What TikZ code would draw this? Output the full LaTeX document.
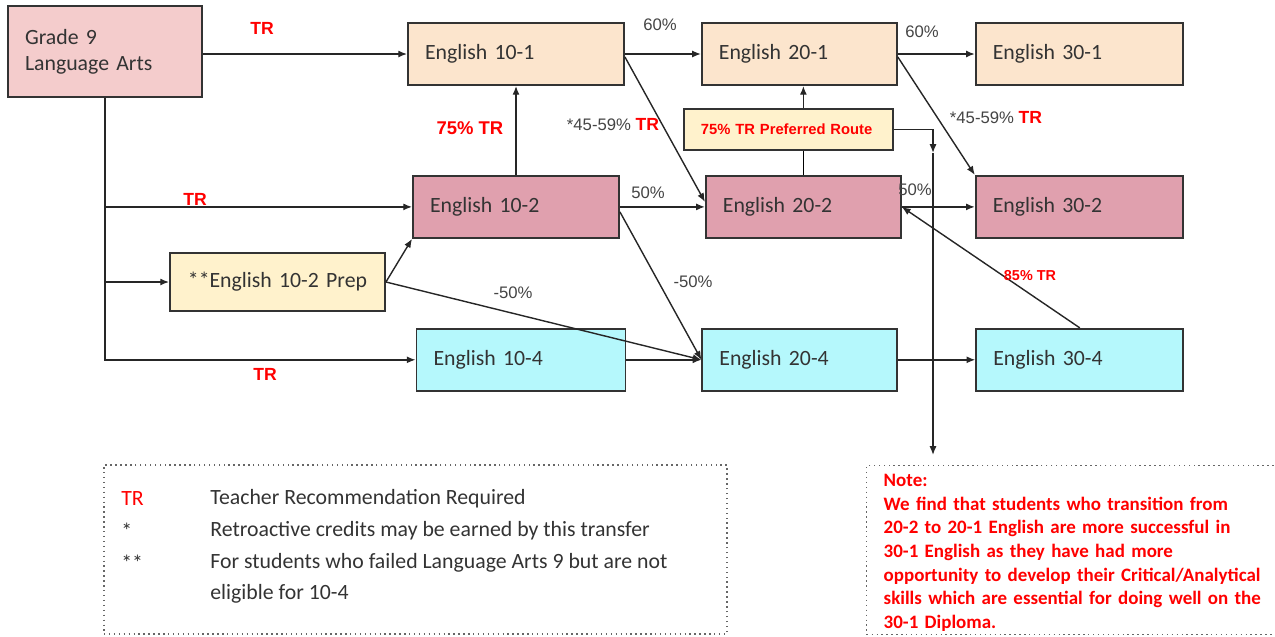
\documentclass[tikz,border=0pt]{standalone}
\usepackage{fontspec}
\setmainfont{Carlito}
\newfontfamily\labelfont{Liberation Sans}
\usetikzlibrary{positioning, arrows.meta}
\usepackage{xcolor}
\definecolor{gradepink}{HTML}{F4CCCC}
\definecolor{peach}{HTML}{FCE5CD}
\definecolor{rose}{HTML}{E0A0AE}
\definecolor{paleyellow}{HTML}{FFF2CC}
\definecolor{palecyan}{HTML}{B5F8FC}
\definecolor{inkgray}{HTML}{333333}
\definecolor{labelgray}{HTML}{444444}
\definecolor{trred}{HTML}{FF0000}
\tikzset{course/.style={draw=inkgray, line width=1.1pt, minimum height=1.24cm, inner xsep=0.34cm,
                        align=left, text=inkgray, font=\fontsize{12.4}{15}\selectfont},
         arr/.style={-{Latex[length=5pt,width=4pt]}, line width=0.8pt, draw=black!85},
         pct/.style={font=\labelfont\fontsize{9.5}{11}\selectfont, text=labelgray, inner sep=1pt},
         trlab/.style={font=\labelfont\bfseries\fontsize{10}{12}\selectfont, text=trred, inner sep=1pt},
         notebox/.style={draw=black!60, dotted, line width=0.8pt},
         legtext/.style={text=inkgray, inner sep=0.04cm, font=\fontsize{12.4}{15}\selectfont}}

\begin{document}
\begin{tikzpicture}[x=0.02cm, y=-0.02cm]
\useasboundingbox (0,0) rectangle (1275,636);
% courses
\node[course, fill=gradepink, text width=3.2cm, minimum height=1.82cm] (g9) at (105,51.5) {Grade 9\\Language Arts};
\node[course, fill=peach, text width=3.64cm] (e101) at (516,54) {English 10-1};
\node[course, fill=peach, text width=3.22cm, right=1.52cm of e101] (e201) {English 20-1};
\node[course, fill=peach, text width=3.46cm, right=1.54cm of e201] (e301) {English 30-1};
\node[course, fill=rose, text width=3.44cm, below=1.78cm of e101] (e102) {English 10-2};
\node[course, fill=rose, text width=3.22cm, right=1.70cm of e102] (e202) {English 20-2};
\node[course, fill=rose, text width=3.46cm, right=1.46cm of e202] (e302) {English 30-2};
\node[course, fill=palecyan, text width=3.5cm, below=1.78cm of e102, xshift=0.1cm] (e104) {English 10-4};
\node[course, fill=palecyan, text width=3.22cm, right=1.5cm of e104] (e204) {English 20-4};
\node[course, fill=palecyan, text width=3.46cm, right=1.54cm of e204] (e304) {English 30-4};
\node[course, fill=paleyellow, text width=3.62cm, align=center, minimum height=1.16cm] (prep) at (277.5,282) {**English 10-2 Prep};
\node[course, fill=paleyellow, text width=3.5cm, minimum height=0.82cm, above=0.48cm of e202, xshift=-0.3cm,
      text=trred, font=\labelfont\bfseries\fontsize{8.4}{10}\selectfont] (pref) {75\% TR Preferred Route};

% from grade 9
\draw[arr] (g9.east |- e101.west) -- (e101.west);
\draw[arr] (g9.south) |- (e104.west);
\draw[arr] (g9.south |- e102.west) -- (e102.west);
\draw[arr] (g9.south |- prep.west) -- (prep.west);
\draw[arr] (prep.east) -- (e102.south west);
\draw[arr] (prep.east) -- (e204.west);

% grade 10 to 20
\draw[arr] (e102.north) -- (e101.south);
\draw[arr] (e101.east) -- (e201.west);
\draw[arr] ([yshift=-0.06cm]e101.east) -- ([yshift=0.1cm]e202.west);
\draw[arr] (e102.east) -- (e202.west);
\draw[arr] ([yshift=-0.1cm]e102.east) -- (e204.west);
\draw[arr] (e104.east) -- (e204.west);

% grade 20 to 30
\draw[arr] (e201.east) -- (e301.west);
\draw[arr] ([yshift=-0.06cm]e201.east) -- (e302.north west);
\draw[arr] (e202.east) -- (e302.west);
\draw[arr] (e204.east) -- (e304.west);
\draw[arr] (e304.north) -- (e202.east);
\draw (e202.north) -- (e202.north |- pref.south);
\draw[arr] (e202.north |- pref.north) -- (e202.north |- e201.south);
\coordinate (bend) at (933,153);
\coordinate (drop) at (933,455);
\draw[arr] (pref.east) -| (bend);
\draw[arr] (bend) -- (drop);

% labels
\node[trlab] (trA) at (262,28) {TR};
\node[trlab] (trB) at (195,199) {TR};
\node[trlab] (trC) at (265,374) {TR};
\node[trlab, font=\labelfont\bfseries\fontsize{10.5}{12}\selectfont] (trUp) at (470,128) {75\% TR};
\node[pct] (p60a) at (660,25) {60\%};
\node[pct] (p60b) at (922,32) {60\%};
\node[pct] (p50a) at (648,193) {50\%};
\node[pct] (p50b) at (915,190) {50\%};
\node[pct] (m50a) at (513,293) {-50\%};
\node[pct] (m50b) at (693,282) {-50\%};
\node[pct] (cutA) at (613,125) {*45-59\% {\bfseries\fontsize{10}{12}\selectfont\color{trred}TR}};
\node[pct] (cutB) at (996,118) {*45-59\% {\bfseries\fontsize{10}{12}\selectfont\color{trred}TR}};
\node[trlab, font=\labelfont\bfseries\fontsize{8.2}{10}\selectfont] (tr85) at (1030,276) {85\% TR};

% legend
\node[notebox, minimum width=12.46cm, minimum height=3.38cm] (legend) at (415.5,549.5) {};
\node[legtext, text=trred, anchor=west] (kTR) at (119,499) {TR};
\node[legtext, anchor=west] (tTR) at (208,499) {Teacher Recommendation Required};
\node[legtext, anchor=west] (kOne) at (119,531) {*};
\node[legtext, anchor=west] (tOne) at (208,531) {Retroactive credits may be earned by this transfer};
\node[legtext, anchor=west] (kTwo) at (119,563) {**};
\node[legtext, anchor=west] (tTwo) at (208,563) {For students who failed Language Arts 9 but are not};
\node[legtext, anchor=west] (tTwoB) at (208,594) {eligible for 10-4};

% note
\node[notebox, anchor=north west, minimum width=8.22cm, minimum height=3.38cm, text width=7.9cm,
      inner xsep=0.34cm, inner ysep=0.06cm, align=left, text=trred, font=\bfseries\fontsize{10.8}{13.5}\selectfont] (note) at (866,465)
      {\rule{0pt}{10pt}Note:\\We find that students who transition from\\20-2 to 20-1 English are more successful in\\30-1 English as they have had more\\opportunity to develop their Critical/Analytical\\skills which are essential for doing well on the\\30-1 Diploma.};
\end{tikzpicture}
\end{document}
